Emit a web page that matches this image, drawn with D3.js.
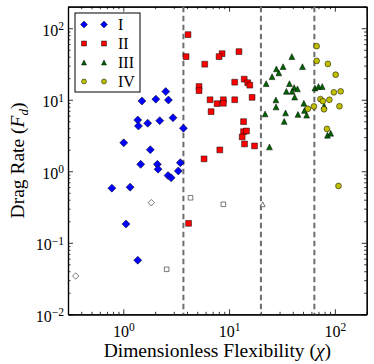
<!DOCTYPE html>
<html>
<head>
<meta charset="utf-8">
<script src="https://cdn.jsdelivr.net/npm/d3@7"></script>
<style>
  body { margin: 0; background: #fff; }
  svg { display: block; }
  text { font-family: "Liberation Serif", "DejaVu Serif", serif; fill: #000; }
</style>
</head>
<body>
<div id="chart"></div>
<script>
// regime I - blue diamonds
const blueX = [2.52, 1.50, 2.03, 2.67, 1.37, 1.39, 1.70, 2.21, 2.95, 3.70, 1.01, 1.80, 1.46, 2.10, 2.13, 3.46, 3.31, 2.65, 2.83, 0.78, 1.16, 1.06, 1.37]
const blueY = [13.0, 9.6, 10.2, 9.9, 5.2, 4.3, 4.7, 5.1, 5.6, 4.0, 2.5, 2.0, 1.25, 1.25, 1.07, 1.32, 1.01, 0.87, 0.81, 0.58, 0.60, 0.183, 0.057]
// regime II - red squares
const redX = [4.09, 3.92, 8.59, 8.04, 12.4, 5.89, 5.20, 5.20, 11.3, 13.9, 15.0, 15.7, 6.61, 7.70, 8.83, 8.83, 11.3, 16.5, 6.76, 13.7, 13.7, 14.6, 13.3, 14.0, 17.4, 8.17, 5.80, 4.14]
const redY = [81.4, 40.1, 44.1, 40.1, 47.1, 31.4, 15.3, 13.4, 17.6, 19.4, 17.3, 16.0, 10.0, 8.82, 10.0, 8.93, 10.0, 10.8, 6.82, 4.94, 3.58, 3.66, 3.02, 2.41, 2.26, 1.99, 1.49, 0.187]
// regime III - green triangles
const greenX = [39.2, 49.4, 32.4, 28.0, 29.5, 25.5, 22.4, 37.2, 41.2, 44.3, 34.8, 39.4, 41.7, 64.8, 70.0, 75.9, 27.7, 27.8, 50.9, 79.2, 51.6, 34.2, 21.9, 44.8, 54.1, 33.2, 85.1, 91.3, 24.1]
const greenY = [40.1, 29.0, 29.0, 27.0, 23.7, 21.0, 16.8, 16.8, 14.8, 14.2, 13.1, 13.1, 10.9, 14.6, 15.3, 15.3, 9.94, 7.93, 8.93, 8.19, 7.08, 6.54, 6.33, 6.23, 6.09, 4.97, 3.19, 3.40, 2.19]
// regime IV - yellow circles
const yellowX = [67.3, 67.3, 85.9, 101.8, 97.9, 113.5, 73.1, 77.0, 88.7, 78.9, 110.6, 55.6, 63.4, 84.2, 108.2]
const yellowY = [56.2, 34.9, 31.7, 22.4, 12.7, 13.1, 10.2, 9.56, 10.0, 7.36, 8.11, 7.48, 8.06, 3.91, 0.623]

// open (unfilled) points
const openDiamondX = [1.84, 0.355]
const openDiamondY = [0.364, 0.0343]
const openSquareX = [4.32, 8.83, 2.57]
const openSquareY = [0.426, 0.345, 0.0426]
const openTriangleX = [20.8]
const openTriangleY = [0.345]

// regime boundaries
const boundaries = [3.7, 20, 64]

const legendLabels = ["I", "II", "III", "IV"]

const width = 374, height = 364
const margin = { top: 6.7, right: 7.3, bottom: 49.7, left: 68 }

const svg = d3.select("#chart").append("svg")
  .attr("width", width)
  .attr("height", height)

const x = d3.scaleLog().domain([0.3, 200]).range([margin.left, width - margin.right])
const y = d3.scaleLog().domain([0.01, 200]).range([height - margin.bottom, margin.top])

// custom marker shapes (matplotlib style)
const diamond = { draw(ctx, s) { ctx.moveTo(0, -s); ctx.lineTo(s, 0); ctx.lineTo(0, s); ctx.lineTo(-s, 0); ctx.closePath() } }
const square = { draw(ctx, s) { ctx.rect(-s, -s, 2 * s, 2 * s) } }
const triangle = { draw(ctx, s) { ctx.moveTo(0, -s); ctx.lineTo(s, s); ctx.lineTo(-s, s); ctx.closePath() } }
const circle = { draw(ctx, s) { ctx.moveTo(s, 0); ctx.arc(0, 0, s, 0, 2 * Math.PI) } }

const series = [
  { xs: blueX, ys: blueY, shape: diamond, size: 4.0, fill: "#0000ff" },
  { xs: redX, ys: redY, shape: square, size: 2.9, fill: "#ff0000" },
  { xs: greenX, ys: greenY, shape: triangle, size: 2.9, fill: "#006400" },
  { xs: yellowX, ys: yellowY, shape: circle, size: 2.9, fill: "#bfbf00" }
]
const openSeries = [
  { xs: openDiamondX, ys: openDiamondY, shape: diamond, size: 3.2 },
  { xs: openSquareX, ys: openSquareY, shape: square, size: 2.3 },
  { xs: openTriangleX, ys: openTriangleY, shape: triangle, size: 2.4 }
]

// minor tick values on a log domain
function minorTicks(domain) {
  var out = []
  var lo = Math.floor(Math.log10(domain[0])), hi = Math.ceil(Math.log10(domain[1]))
  for (var e = lo; e <= hi; e++) {
    for (var k = 2; k <= 9; k++) {
      var v = k * Math.pow(10, e)
      if (v >= domain[0] && v <= domain[1]) out.push(v)
    }
  }
  return out
}

const xMajor = [1, 10, 100]
const yMajor = [0.01, 0.1, 1, 10, 100]

function powLabel(sel) {
  sel.each(function (d) {
    var t = d3.select(this)
    var e = Math.round(Math.log10(d))
    t.text(null)
    t.append("tspan").text("10")
    t.append("tspan").attr("dy", "-0.48em").attr("font-size", "0.72em")
      .text(e < 0 ? "\u2212" + (-e) : e)
  })
}

const gx = svg.append("g").attr("transform", "translate(0," + y.range()[0] + ")")
  .call(d3.axisBottom(x).tickValues(xMajor).tickSize(-5).tickSizeOuter(0).tickPadding(8))
gx.selectAll(".tick text").attr("font-size", 16).attr("dy", "0.9em").call(powLabel)
svg.append("g").attr("transform", "translate(0," + y.range()[0] + ")")
  .call(d3.axisBottom(x).tickValues(minorTicks(x.domain())).tickSize(-2.5).tickSizeOuter(0).tickFormat(""))

svg.append("g").attr("transform", "translate(0," + y.range()[1] + ")")
  .call(d3.axisTop(x).tickValues(xMajor).tickSize(-5).tickSizeOuter(0).tickFormat(""))
svg.append("g").attr("transform", "translate(0," + y.range()[1] + ")")
  .call(d3.axisTop(x).tickValues(minorTicks(x.domain())).tickSize(-2.5).tickSizeOuter(0).tickFormat(""))

const gy = svg.append("g").attr("transform", "translate(" + x.range()[0] + ",0)")
  .call(d3.axisLeft(y).tickValues(yMajor).tickSize(-5).tickSizeOuter(0).tickPadding(4))
gy.selectAll(".tick text").attr("font-size", 16).attr("dy", "0.45em").call(powLabel)
svg.append("g").attr("transform", "translate(" + x.range()[0] + ",0)")
  .call(d3.axisLeft(y).tickValues(minorTicks(y.domain())).tickSize(-2.5).tickSizeOuter(0).tickFormat(""))

svg.append("g").attr("transform", "translate(" + x.range()[1] + ",0)")
  .call(d3.axisRight(y).tickValues(yMajor).tickSize(-5).tickSizeOuter(0).tickFormat(""))
svg.append("g").attr("transform", "translate(" + x.range()[1] + ",0)")
  .call(d3.axisRight(y).tickValues(minorTicks(y.domain())).tickSize(-2.5).tickSizeOuter(0).tickFormat(""))

svg.selectAll(".domain").attr("stroke", "#000").attr("stroke-width", 1.2)
svg.selectAll(".tick line").attr("stroke", "#000").attr("stroke-width", 0.8)

// regime boundaries
svg.selectAll(".bound")
  .data(boundaries)
  .enter()
  .append("line")
  .attr("class", "bound")
  .attr("x1", d => x(d)).attr("x2", d => x(d))
  .attr("y1", y.range()[1]).attr("y2", y.range()[0])
  .attr("stroke", "#6e6e6e")
  .attr("stroke-width", 2)
  .attr("stroke-dasharray", "5.5,3.5")

// open markers
openSeries.forEach(function (s) {
  svg.append("g").selectAll("path")
    .data(d3.range(s.xs.length))
    .enter()
    .append("path")
    .attr("transform", i => "translate(" + x(s.xs[i]) + "," + y(s.ys[i]) + ")")
    .attr("d", d3.symbol().type(s.shape).size(s.size))
    .attr("fill", "#fff")
    .attr("stroke", "#555")
    .attr("stroke-width", 0.8)
})

// filled markers
series.forEach(function (s) {
  svg.append("g").selectAll("path")
    .data(d3.range(s.xs.length))
    .enter()
    .append("path")
    .attr("transform", i => "translate(" + x(s.xs[i]) + "," + y(s.ys[i]) + ")")
    .attr("d", d3.symbol().type(s.shape).size(s.size))
    .attr("fill", s.fill)
    .attr("stroke", "#000")
    .attr("stroke-width", 0.5)
})

// legend
const legend = svg.append("g").attr("transform", "translate(75,13)")
legend.append("rect")
  .attr("width", 65).attr("height", 79)
  .attr("fill", "#fff").attr("stroke", "#000").attr("stroke-width", 1)

series.forEach(function (s, i) {
  var row = legend.append("g").attr("transform", "translate(0," + (11.5 + i * 19) + ")")
  ;[9, 29].forEach(function (cx) {
    row.append("path")
      .attr("transform", "translate(" + cx + ",0)")
      .attr("d", d3.symbol().type(s.shape).size(s.size * 0.85))
      .attr("fill", s.fill)
      .attr("stroke", "#000")
      .attr("stroke-width", 0.5)
  })
  row.append("text")
    .attr("x", 43).attr("dy", "0.35em")
    .attr("font-size", 16)
    .text(legendLabels[i])
})

// axis titles
const xt = svg.append("text")
  .attr("x", (x.range()[0] + x.range()[1]) / 2)
  .attr("y", 357)
  .attr("text-anchor", "middle")
  .attr("font-size", 19.5)
xt.append("tspan").text("Dimensionless Flexibility (")
xt.append("tspan").attr("font-style", "italic").text("\u03c7")
xt.append("tspan").text(")")

const yt = svg.append("text")
  .attr("transform", "translate(24," + (y.range()[0] + y.range()[1]) / 2 + ") rotate(-90)")
  .attr("text-anchor", "middle")
  .attr("font-size", 19.5)
yt.append("tspan").text("Drag Rate (")
yt.append("tspan").attr("font-style", "italic").text("F")
yt.append("tspan").attr("font-style", "italic").attr("font-size", 13).attr("dy", 4).text("d")
yt.append("tspan").attr("dy", -4).text(")")
</script>
</body>
</html>
